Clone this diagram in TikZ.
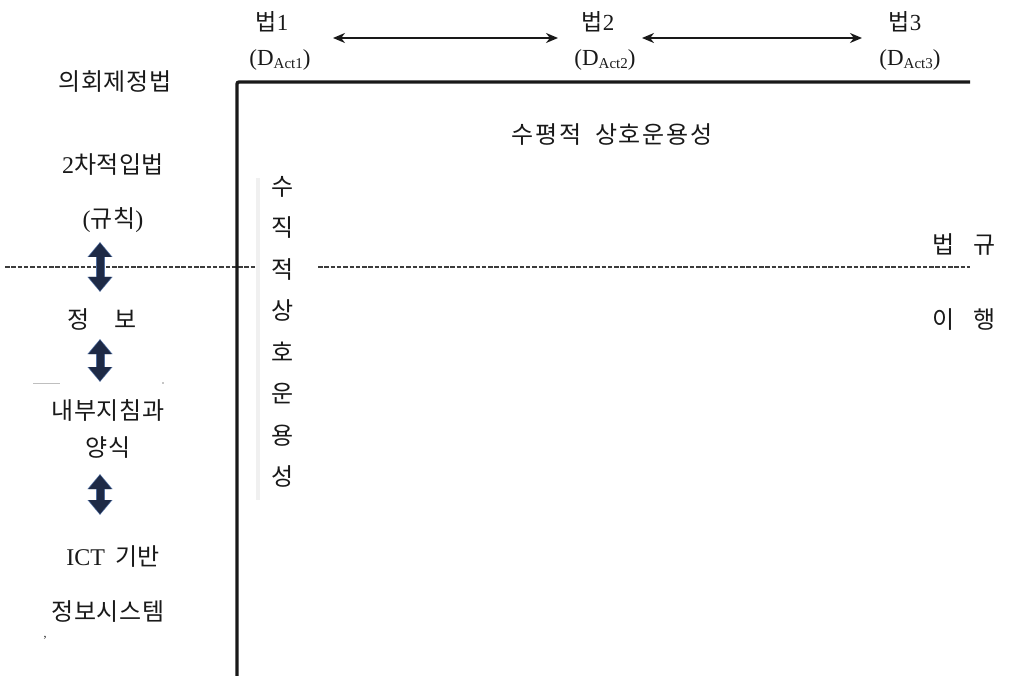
\documentclass[tikz,border=0pt]{standalone}
\usepackage{fontspec}
\setmainfont{Liberation Serif}
\newfontfamily\kr[LetterSpace=2]{Noto Sans CJK KR}
\newfontfamily\krwide[LetterSpace=7]{Noto Sans CJK KR}
\usetikzlibrary{arrows.meta}
\definecolor{inkc}{RGB}{25,25,25}
\definecolor{dashc}{RGB}{60,60,60}
\definecolor{arrc}{RGB}{30,42,70}
\definecolor{arredge}{RGB}{80,110,160}
\begin{document}
\begin{tikzpicture}[x=1pt,y=-1pt,
  kt/.style={inner sep=0pt, font=\kr\fontsize{24}{28}\selectfont, text=inkc},
  lt/.style={inner sep=0pt, font=\fontsize{23}{26}\selectfont, text=inkc},
  frame/.style={line width=3.3pt, draw=inkc, rounded corners=2pt},
  dashline/.style={line width=2pt, draw=dashc, dash pattern=on 4.5pt off 1.8pt},
  actarrow/.style={line width=2pt, draw=inkc, {Stealth[length=12pt,width=10pt]}-{Stealth[length=12pt,width=10pt]}},
  fatarrow/.style={line width=7pt, draw=arrc, {Triangle[length=14pt,width=22pt]}-{Triangle[length=14pt,width=22pt]}},
  fatedge/.style={line width=9pt, draw=arredge, {Triangle[length=15pt,width=24pt]}-{Triangle[length=15pt,width=24pt]}},
  faint/.style={draw=black!6, line width=4pt}
]
\useasboundingbox (0,0) rectangle (1020,676);
\newcommand\sub[1]{\raisebox{-0.3ex}{\fontsize{15}{16}\selectfont #1}}
\newcommand\serif[1]{{\fontspec{Liberation Serif}#1}}

% faint strip beside vertical text
\coordinate (fs1) at (258,178);
\coordinate (fs2) at (258,500);
\draw[faint] (fs1) -- (fs2);

% dashed line
\coordinate (dl0) at (5,267);
\coordinate (dl1) at (255,267);
\coordinate (dl2) at (318,267);
\coordinate (dl3) at (970,267);
\draw[dashline] (dl0) -- (dl1);
\draw[dashline] (dl2) -- (dl3);

% main frame
\coordinate (fr0) at (237,676);
\coordinate (fr1) at (237,82);
\coordinate (fr2) at (970,82);
\draw[frame] (fr0) -- (fr1) -- (fr2);

% top labels
\node[lt] (b1) at (272,22) {{\kr 법}1};
\node[lt] (d1) at (280,60) {(D\sub{Act1})};
\node[lt] (b2) at (598,22) {{\kr 법}2};
\node[lt] (d2) at (605,60) {(D\sub{Act2})};
\node[lt] (b3) at (905,22) {{\kr 법}3};
\node[lt] (d3) at (910,60) {(D\sub{Act3})};
\coordinate (a1s) at (333,38);
\coordinate (a1e) at (558,38);
\coordinate (a2s) at (642,38);
\coordinate (a2e) at (862,38);
\draw[actarrow] (a1s) -- (a1e);
\draw[actarrow] (a2s) -- (a2e);

% left column
\node[kt] (n1) at (115,82) {의회제정법};
\node[kt] (n2) at (113,165) {\serif{2}차적입법};
\node[kt] (n3) at (113,220) {\serif{(}규칙\serif{)}};
\node[kt] (n4) at (102,320) {정\hspace{24pt}보};
\node[kt] (n5) at (108,410) {내부지침과};
\node[kt] (n6) at (108,448) {양식};
\node[kt] (n7) at (113,557) {\serif{ICT}\hspace{10pt}기반};
\node[kt] (n8) at (108,612) {정보시스템};
\node[lt, font=\fontsize{12}{12}\selectfont] (n9) at (45,638) {,};

% faint marks
\coordinate (fm1) at (33,383);
\coordinate (fm2) at (60,383);
\draw[draw=black!25, line width=0.8pt] (fm1) -- (fm2);
\fill[black!45] (163,383) circle (0.9pt);

% double arrows
\coordinate (v1a) at (100,243);
\coordinate (v1b) at (100,291);
\coordinate (v2a) at (100,340);
\coordinate (v2b) at (100,381);
\coordinate (v3a) at (100,475);
\coordinate (v3b) at (100,514);
\foreach \p/\q in {v1a/v1b, v2a/v2b, v3a/v3b}{
  \draw[fatedge, shorten <=-1pt, shorten >=-1pt] (\p) -- (\q);
  \draw[fatarrow] (\p) -- (\q);
}

% horizontal interoperability
\node[kt, font=\krwide\fontsize{24}{28}\selectfont] (h) at (612,135) {수평적\hspace{14pt}상호운용성};

% vertical interoperability
\node[kt, align=center, font=\kr\fontsize{24}{41.5}\selectfont] (v) at (283,332)
  {수\\직\\적\\상\\호\\운\\용\\성};

% right side
\node[kt] (r1) at (964,245) {법\hspace{18pt}규};
\node[kt] (r2) at (964,320) {이\hspace{18pt}행};
\end{tikzpicture}
\end{document}
